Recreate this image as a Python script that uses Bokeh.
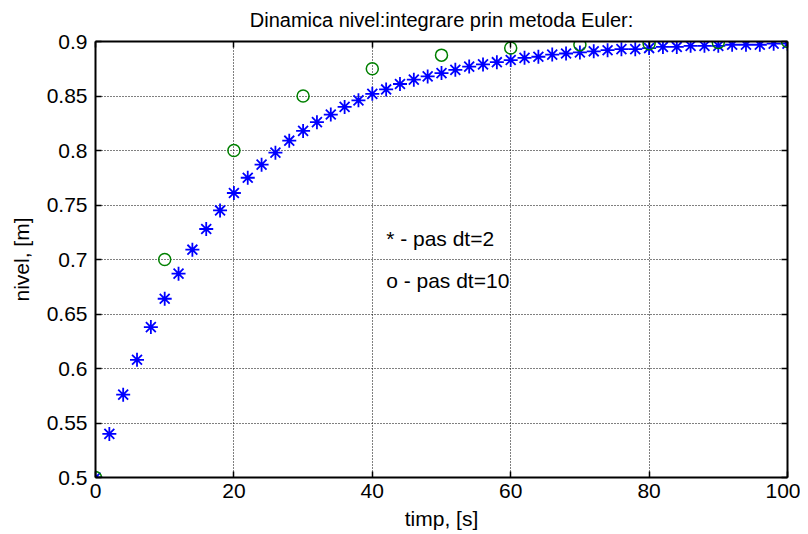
from bokeh.plotting import figure
from bokeh.models import Range1d, LinearAxis, FixedTicker, Label, CustomJSTickFormatter, Title
from bokeh.embed import file_html
from bokeh.resources import INLINE

# Data
t_dt2 = [0, 2, 4, 6, 8, 10, 12, 14, 16, 18, 20, 22, 24, 26, 28, 30, 32, 34, 36, 38, 40,
         42, 44, 46, 48, 50, 52, 54, 56, 58, 60, 62, 64, 66, 68, 70, 72, 74, 76, 78, 80,
         82, 84, 86, 88, 90, 92, 94, 96, 98, 100]
nivel_dt2 = [0.500, 0.540, 0.576, 0.608, 0.638, 0.664, 0.687, 0.709, 0.728, 0.745, 0.761,
             0.775, 0.787, 0.798, 0.809, 0.818, 0.826, 0.833, 0.840, 0.846, 0.852,
             0.856, 0.861, 0.865, 0.868, 0.871, 0.874, 0.877, 0.879, 0.881, 0.883,
             0.885, 0.886, 0.888, 0.889, 0.890, 0.891, 0.892, 0.893, 0.893, 0.894,
             0.895, 0.895, 0.896, 0.896, 0.896, 0.897, 0.897, 0.897, 0.898, 0.898]
t_dt10 = [0, 10, 20, 30, 40, 50, 60, 70, 80, 90, 100]
nivel_dt10 = [0.500, 0.700, 0.800, 0.850, 0.875, 0.8875, 0.894, 0.897, 0.898, 0.899, 0.900]

x_ticks = [0, 20, 40, 60, 80, 100]
y_ticks = [0.5, 0.55, 0.6, 0.65, 0.7, 0.75, 0.8, 0.85, 0.9]

title_text = "Dinamica nivel:integrare prin metoda Euler:"
x_label = "timp, [s]"
y_label = "nivel, [m]"
note1 = "* - pas dt=2"
note2 = "o - pas dt=10"

FONT = "Liberation Sans"
FS = "21px"

p = figure(width=800, height=533, output_backend="svg", toolbar_location=None,
           x_range=Range1d(0, 100), y_range=Range1d(0.5, 0.9),
           min_border_left=95, min_border_right=13, min_border_top=41, min_border_bottom=56,
           background_fill_color="white", border_fill_color="white")

p.title = Title(text=title_text, align="center", vertical_align="top",
                text_font=FONT, text_font_size="20px",
                text_font_style="normal", text_color="#000000", standoff=17)
p.title_location = "above"
p.outline_line_color = None

def style_axis(ax, show_labels=True):
    ax.axis_line_color = "black"
    ax.axis_line_width = 2
    ax.major_tick_line_color = "black"
    ax.major_tick_line_width = 1.5
    ax.major_tick_in = 6
    ax.major_tick_out = 0
    ax.minor_tick_line_color = None
    ax.major_label_text_font = FONT
    ax.major_label_text_font_size = FS
    ax.major_label_text_color = "#000000"
    ax.axis_label_text_font = FONT
    ax.axis_label_text_font_size = FS
    ax.axis_label_text_font_style = "normal"
    ax.axis_label_text_color = "#000000"
    if not show_labels:
        ax.formatter = CustomJSTickFormatter(code="return ''")
        ax.major_label_text_font_size = "1px"
        ax.major_label_standoff = 0

xa = p.xaxis[0]
ya = p.yaxis[0]
xa.ticker = FixedTicker(ticks=x_ticks)
ya.ticker = FixedTicker(ticks=y_ticks)
style_axis(xa)
style_axis(ya)
xa.axis_label = x_label
ya.axis_label = y_label
xa.major_label_standoff = 6
xa.axis_label_standoff = 6
ya.major_label_standoff = 8
ya.axis_label_standoff = 11

top = LinearAxis(ticker=FixedTicker(ticks=x_ticks))
right = LinearAxis(ticker=FixedTicker(ticks=y_ticks))
style_axis(top, False)
style_axis(right, False)
p.add_layout(top, "above")
p.add_layout(right, "right")

for g in (p.xgrid[0], p.ygrid[0]):
    g.grid_line_color = "black"
    g.grid_line_dash = "1 2"
    g.grid_line_width = 1
p.xgrid[0].ticker = FixedTicker(ticks=x_ticks)
p.ygrid[0].ticker = FixedTicker(ticks=y_ticks)

p.scatter(t_dt2, nivel_dt2, marker="asterisk", size=14, line_color="#0000ff", line_width=1.8)
p.scatter(t_dt10, nivel_dt10, marker="circle", size=12, fill_color=None,
          line_color="#008000", line_width=1.5)

p.add_layout(Label(x=42, y=0.719, text=note1, text_font=FONT, text_font_size=FS,
                   text_baseline="middle", text_align="left", text_color="#000000"))
p.add_layout(Label(x=42, y=0.681, text=note2, text_font=FONT, text_font_size=FS,
                   text_baseline="middle", text_align="left", text_color="#000000"))

open("out.html", "w").write(file_html(p, INLINE))
